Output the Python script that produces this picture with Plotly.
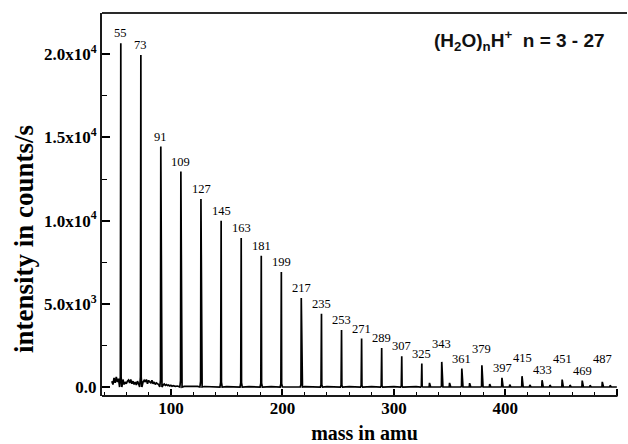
import plotly.graph_objects as go

# ---- data ----
peak_mass = [55, 73, 91, 109, 127, 145, 163, 181, 199, 217, 235, 253, 271,
             289, 307, 325, 343, 361, 379, 397, 415, 433, 451, 469, 487]
peak_counts = [20660, 19960, 14450, 12950, 11300, 9990, 8960, 7890, 6910,
               5350, 4410, 3430, 2910, 2350, 1850, 1410, 1510, 1110, 1310,
               550, 650, 410, 450, 390, 310]

minor_mass = [332, 350, 368, 386, 404, 422, 440, 458, 476, 494]
minor_counts = [250, 250, 230, 180, 150, 130, 120, 120, 100, 100]

noise_mass = [47, 48, 49, 50, 51, 52, 53, 57, 58, 59, 60, 61, 62, 63, 64, 65,
              66, 67, 68, 69, 70, 71, 75, 76, 77, 78, 79, 80, 81, 82, 83, 84,
              85, 86, 87, 88, 89, 93, 94, 95, 96, 97, 98, 99, 100, 101, 102,
              104, 106, 112, 115, 120, 124, 130, 135, 140, 150, 160, 170, 180,
              190, 200, 220, 240, 260, 280, 300, 320, 500]
noise_counts = [350, 150, 550, 250, 600, 300, 500, 450, 150, 300, 200, 350,
                420, 250, 450, 200, 350, 150, 300, 120, 350, 200, 300, 400,
                300, 450, 200, 400, 300, 250, 400, 200, 300, 150, 250, 200,
                150, 120, 180, 100, 150, 90, 120, 60, 100, 50, 80, 40, 60,
                40, 50, 30, 40, 30, 30, 20, 20, 20, 20, 20, 20, 20, 20, 20,
                20, 20, 20, 20, 0]

x_tick_vals = [100, 200, 300, 400, 500]
y_tick_vals = [0, 5000, 10000, 15000, 20000]
y_tick_text = ["0.0", "5.0x10<sup>3</sup>", "1.0x10<sup>4</sup>",
               "1.5x10<sup>4</sup>", "2.0x10<sup>4</sup>"]
label_lift = {343: 8, 379: 6, 415: 8, 451: 11, 487: 13}

# ---- build the spectrum trace from the peak lists ----
pts = []
all_peaks = list(zip(peak_mass, peak_counts)) + list(zip(minor_mass, minor_counts))
for m, h in all_peaks:
    pts += [(m - 1.0, 0), (m - 0.35, 0.03 * h), (m - 0.06, h),
            (m + 0.06, h), (m + 0.35, 0.03 * h), (m + 1.0, 0)]
for m, c in zip(noise_mass, noise_counts):
    if all(abs(m - pm) > 1.2 for pm, _ in all_peaks):
        pts.append((m, c))
pts.sort(key=lambda p: p[0])
xs = [p[0] for p in pts]
ys = [p[1] for p in pts]

fig = go.Figure()
fig.add_trace(go.Scatter(x=xs, y=ys, mode="lines",
                         line=dict(color="black", width=1.7),
                         showlegend=False, hoverinfo="skip"))

serif = "Liberation Serif, Times New Roman, serif"
for m, h in zip(peak_mass, peak_counts):
    fig.add_annotation(x=m, y=h, text=str(m), showarrow=False,
                       xanchor="center", yanchor="bottom",
                       yshift=1 + label_lift.get(m, 0),
                       font=dict(family=serif, size=12.5, color="black"))

fig.add_annotation(xref="paper", yref="paper", x=0.796, y=0.927,
                   text="(H<sub>2</sub>O)<sub>n</sub>H<sup>+</sup>&nbsp;&nbsp;n = 3 - 27",
                   showarrow=False, xanchor="center", yanchor="middle",
                   font=dict(family="Liberation Sans, Arial, sans-serif",
                             size=19, color="#111", weight="bold"))

# y-axis title placed as rotated text
fig.add_annotation(xref="paper", yref="paper", x=-0.1486, y=0.41,
                   text="intensity in counts/s", textangle=-90,
                   showarrow=False, xanchor="center", yanchor="middle",
                   font=dict(family=serif, size=27, color="black",
                             weight="bold"))

x_lo, x_hi = 38.2, 509.1
y_lo, y_hi = -540, 22480
fig.add_shape(type="line", xref="paper", yref="paper", x0=0, x1=1, y0=1, y1=1,
              line=dict(color="#2a2a2a", width=2.2))
fig.add_shape(type="line", xref="x", yref="paper", x0=x_lo, x1=500.6, y0=0, y1=0,
              line=dict(color="#1a1a1a", width=2))

fig.update_xaxes(range=[x_lo, x_hi], showgrid=False, zeroline=False,
                 showline=False, tickvals=x_tick_vals,
                 ticks="inside", ticklen=7, tickwidth=1.6, tickcolor="black",
                 minor=dict(ticks="inside", ticklen=4, tickwidth=1.4,
                            tickcolor="black", dtick=20, tick0=0),
                 tickfont=dict(family=serif, size=17, color="black",
                               weight="bold"),
                 title=dict(text="mass in amu", standoff=8,
                            font=dict(family=serif, size=20, color="black",
                                      weight="bold")))
fig.update_yaxes(range=[y_lo, y_hi], showgrid=False, zeroline=False,
                 showline=True, linecolor="#1a1a1a", linewidth=2,
                 tickvals=y_tick_vals, ticktext=y_tick_text,
                 ticks="inside", ticklen=8, tickwidth=1.6, tickcolor="black",
                 minor=dict(ticks="inside", ticklen=5, tickwidth=1.4,
                            tickcolor="black",
                            tickvals=[2500, 7500, 12500, 17500]),
                 tickfont=dict(family=serif, size=17, color="black",
                               weight="bold"))

fig.update_layout(width=628, height=444,
                  margin=dict(l=102, r=1, t=13, b=48),
                  plot_bgcolor="white", paper_bgcolor="white")

fig.write_html("out.html")
